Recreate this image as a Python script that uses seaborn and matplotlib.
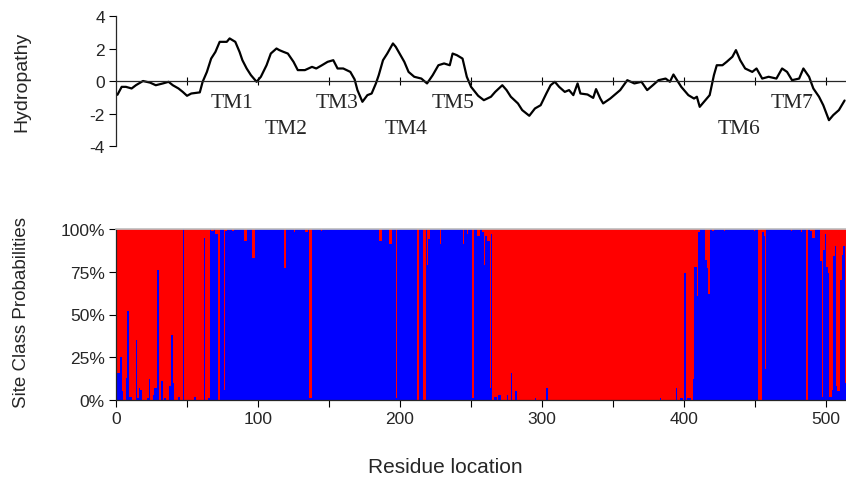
import matplotlib
matplotlib.use("Agg")
import matplotlib.pyplot as plt
import seaborn as sns
import numpy as np
import pandas as pd

# hydropathy profile (residue, value)
hydro_residue = [1, 4, 7, 11, 14, 19, 24, 28, 33, 37, 40, 44, 47, 50, 53, 59, 61, 64, 67, 70,
                 73, 78, 80, 84, 87, 89, 92, 95, 99, 102, 106, 109, 113, 115, 118, 121, 125, 128, 133, 138,
                 141, 145, 149, 153, 156, 160, 165, 168, 170, 173.5, 177, 180, 183, 185, 188, 191, 195, 197, 199, 203,
                 206, 210, 215, 219, 223, 227, 231, 235, 237, 240, 244, 247, 250, 255, 259, 264, 267, 272, 275, 278,
                 283, 286, 291, 295, 299, 303, 306, 309, 312, 316, 319, 322, 325, 327, 332, 336, 338, 341, 343, 348,
                 355, 360, 365, 370, 374, 378, 382, 387, 390, 392.5, 395, 398, 403, 407, 409, 411, 415, 418, 421, 423,
                 427, 430, 434, 436.5, 439.5, 443, 448, 451, 455, 459.5, 465, 469, 472.5, 476, 481, 484, 488, 491, 495, 498,
                 502, 505, 509, 513]
hydro_value = [-0.85, -0.36, -0.36, -0.46, -0.26, 0.0, -0.1, -0.26, -0.15, -0.05, -0.26, -0.46, -0.67, -0.91, -0.77, -0.7, -0.05, 0.56, 1.38, 1.79,
               2.41, 2.41, 2.62, 2.41, 1.79, 1.28, 0.77, 0.36, -0.05, 0.26, 0.97, 1.69, 2.0, 1.9, 1.79, 1.69, 1.18, 0.67, 0.67, 0.87,
               0.77, 0.97, 1.18, 1.28, 0.77, 0.77, 0.56, 0.1, -0.56, -1.28, -0.87, -0.77, -0.15, 0.36, 1.28, 1.69, 2.31, 2.1, 1.79, 1.18,
               0.56, 0.26, 0.15, -0.15, 0.36, 0.97, 1.08, 0.97, 1.69, 1.59, 1.38, 0.26, -0.36, -0.91, -1.18, -0.97, -0.67, -0.26, -0.56, -0.97,
               -1.38, -1.79, -2.14, -1.69, -1.49, -0.77, -0.26, -0.05, -0.36, -0.67, -0.56, -0.87, -0.15, -0.77, -0.83, -1.04, -0.5, -1.08, -1.38, -1.08,
               -0.56, 0.05, -0.15, -0.05, -0.56, -0.26, 0.05, 0.15, -0.05, 0.4, 0.05, -0.36, -0.87, -1.08, -0.97, -1.59, -1.18, -0.87, 0.36, 0.97,
               0.97, 1.18, 1.49, 1.9, 1.28, 0.77, 0.56, 0.77, 0.15, 0.26, 0.15, 0.77, 0.56, 0.05, 0.15, 0.77, 0.26, -0.46, -0.97, -1.49,
               -2.41, -2.1, -1.79, -1.2]

tm_names = ["TM1", "TM2", "TM3", "TM4", "TM5", "TM6", "TM7"]
tm_residue = [82, 120, 156, 204, 237, 439, 476]
tm_height = [-1.3, -2.95, -1.3, -2.95, -1.3, -2.95, -1.3]

# site class probabilities: blue share per residue, red is the rest
n_residues = 514
blue_runs = [(0, 66, 0.0), (66, 264, 1.0), (264, 410, 0.0), (410, 514, 1.0)]
blue_spikes = {
    0: .32, 1: .16, 2: .16, 3: .25, 4: .05, 7: .13, 8: .52, 9: .02, 10: .02, 14: .35,
    15: .01, 16: .07, 17: .06, 22: .01, 23: .12, 26: .03, 27: .07, 28: .07, 29: .76, 32: .11,
    34: .01, 37: .08, 38: .08, 39: .38, 40: .10, 44: .02, 47: 1.0, 55: .02, 62: .95, 65: .01,
    67: .99, 68: .99, 70: .97, 71: .97, 72: 0.0, 76: .06, 77: .99, 82: .99, 90: .93, 91: .93,
    96: .83, 97: .83, 118: .77, 119: .77, 125: .98, 133: .98, 134: .98, 136: .01, 137: .01, 144: .99,
    185: .93, 186: .93, 192: .91, 193: .91, 197: .01, 212: 0.0, 216: 0.0, 217: 0.0, 219: .79, 220: .94,
    228: .91, 244: .91, 247: .97, 251: .01, 254: .96, 255: .96, 258: .98, 259: .79, 260: .96, 261: .93,
    262: .93, 263: .07, 264: .97, 266: .02, 267: .02, 269: .03, 270: .03, 275: .03, 278: .16, 281: .05,
    295: .01, 303: .07, 383: .01, 394: .07, 397: .01, 398: .01, 400: .74, 402: .01, 403: .01, 404: .01,
    406: .12, 407: .78, 408: .78, 409: .61, 410: .98, 415: .82, 416: .77, 417: .62, 420: .99, 428: .99,
    449: .99, 452: 0.0, 453: 0.0, 454: 0.0, 455: .98, 456: .96, 457: .18, 475: .99, 482: .98, 486: 0.0,
    489: .99, 490: .95, 491: .95, 496: .81, 497: .02, 498: .88, 499: .97, 500: .78, 501: .74, 502: .02,
    503: .02, 504: .06, 505: .84, 506: .90, 507: .08, 508: .05, 509: .05, 510: .70, 511: .85, 512: .90, 513: .10,
}

blue = np.zeros(n_residues)
for start, stop, value in blue_runs:
    blue[start:stop] = value
for i, value in blue_spikes.items():
    blue[i] = value

sites = pd.DataFrame({
    "residue": np.tile(np.arange(n_residues) + 0.5, 2),
    "prob": np.concatenate([blue, 1 - blue]),
    "site_class": ["blue"] * n_residues + ["red"] * n_residues,
})

sns.set_theme(style="ticks")
plt.rcParams["font.family"] = ["Liberation Sans", "DejaVu Sans"]
plt.rcParams["axes.unicode_minus"] = False

fig = plt.figure(figsize=(8.46, 4.85), dpi=100)
ax_top = fig.add_axes([116 / 846, 1 - 147 / 485, 730 / 846, 130 / 485])
ax_bot = fig.add_axes([116 / 846, 1 - 401 / 485, 730 / 846, 171 / 485])

# top: hydropathy line
sns.lineplot(x=hydro_residue, y=hydro_value, ax=ax_top, color="black", linewidth=1.6)
ax_top.set_xlim(0, n_residues)
ax_top.set_ylim(-4, 4)
ax_top.spines["bottom"].set_position(("data", 0))
ax_top.spines["bottom"].set_linewidth(0.9)
ax_top.spines["left"].set_linewidth(0.9)
ax_top.spines["top"].set_visible(False)
ax_top.spines["right"].set_visible(False)
ax_top.set_xticks(np.arange(50, 501, 50))
ax_top.set_xticklabels([])
ax_top.tick_params(axis="x", direction="inout", length=6, width=0.8, color="black")
ax_top.set_yticks([-4, -2, 0, 2, 4])
ax_top.tick_params(axis="y", direction="out", length=5, width=0.8, labelsize=12.5, color="black", pad=3)
for name, x, y in zip(tm_names, tm_residue, tm_height):
    ax_top.text(x, y, name, ha="center", va="center", fontsize=15.5, family="Liberation Serif")

# bottom: stacked site class probabilities
sns.histplot(sites, x="residue", weights="prob", hue="site_class", hue_order=["red", "blue"],
             palette={"red": "#ff0000", "blue": "#0000ff"}, multiple="stack",
             binwidth=1, binrange=(0, n_residues), alpha=1, linewidth=0,
             antialiased=False, legend=False, ax=ax_bot)
ax_bot.set_xlim(0, n_residues)
ax_bot.set_ylim(0, 1)
ax_bot.set_xticks(np.arange(0, 501, 50))
ax_bot.set_xticklabels([str(v) if v % 100 == 0 else "" for v in range(0, 501, 50)])
ax_bot.set_yticks([0, 0.25, 0.5, 0.75, 1.0])
ax_bot.set_yticklabels(["0%", "25%", "50%", "75%", "100%"])
ax_bot.tick_params(direction="out", length=5, width=0.8, labelsize=12.5, color="black", pad=3)
ax_bot.spines["top"].set_color("#c0c0c0")
ax_bot.spines["right"].set_visible(False)
ax_bot.spines["left"].set_linewidth(0.9)
ax_bot.spines["bottom"].set_linewidth(0.9)
ax_bot.set_xlabel("")
ax_bot.set_ylabel("")
ax_top.set_ylabel("")

fig.text(22 / 846, 1 - 82 / 485, "Hydropathy", rotation=90, ha="center", va="center", fontsize=14)
fig.text(22 / 846, 1 - 313 / 485, "Site Class Probabilities", rotation=90, ha="center", va="center", fontsize=13.5)
fig.text(445 / 846, 1 - 468 / 485, "Residue location", ha="center", va="center", fontsize=15)

fig.savefig("out.png", dpi=100)
